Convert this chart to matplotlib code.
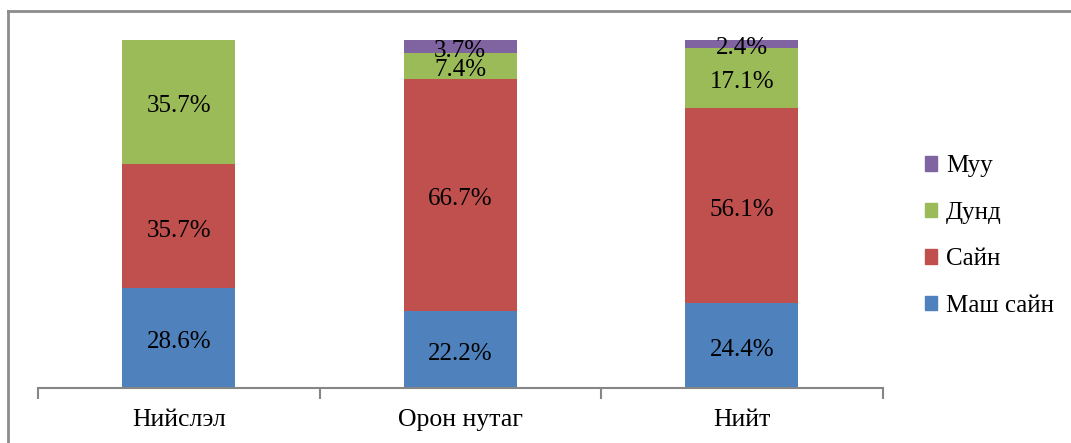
import matplotlib.pyplot as plt
from matplotlib.lines import Line2D
from matplotlib.patches import Patch

categories = ['Нийслэл', 'Орон нутаг', 'Нийт']
series = ['Маш сайн', 'Сайн', 'Дунд', 'Муу']
mash_sain = [28.6, 22.2, 24.4]
sain = [35.7, 66.7, 56.1]
dund = [35.7, 7.4, 17.1]
muu = [0.0, 3.7, 2.4]
colors = ['#4F81BD', '#C0504D', '#9BBB59', '#8064A2']

plt.rcParams['font.family'] = ['Liberation Serif', 'DejaVu Serif']

fig = plt.figure(figsize=(10.71, 4.43), dpi=100)
ax = fig.add_axes([38 / 1071, 55 / 443, 844.5 / 1071, 348 / 443])

x = list(range(len(categories)))
bottom = [0.0] * len(categories)
for name, vals, col in zip(series, [mash_sain, sain, dund, muu], colors):
    ax.bar(x, vals, width=0.4, bottom=bottom, color=col, label=name)
    for xi, b, v in zip(x, bottom, vals):
        if v > 0:
            ax.annotate(f'{v:.1f}%', (xi, b + v / 2), xytext=(0, -3),
                        textcoords='offset points', ha='center', va='center',
                        fontsize=18, color='black')
    bottom = [b + v for b, v in zip(bottom, vals)]

ax.set_xlim(-0.5, len(categories) - 0.5)
ax.set_ylim(0, 100)
for side in ['top', 'right', 'left']:
    ax.spines[side].set_visible(False)
ax.spines['bottom'].set_color('#868686')
ax.spines['bottom'].set_linewidth(1.5)
ax.set_yticks([])
ax.set_xticks(x)
ax.set_xticklabels(categories, fontsize=18.5)
ax.tick_params(axis='x', which='major', length=0, pad=15)
ax.set_xticks([-0.5, 0.5, 1.5, 2.5], minor=True)
ax.tick_params(axis='x', which='minor', length=8, width=1.5, color='#868686')

handles = [Patch(color=c, label=s) for s, c in zip(series, colors)][::-1]
fig.legend(handles=handles, loc='center left', bbox_to_anchor=(902 / 1071, 1 - 236 / 443),
           frameon=False, fontsize=18, handlelength=0.5, handleheight=0.5,
           handletextpad=0.35, labelspacing=0.98)

# chart frame on the top and left edges
fig.add_artist(Line2D([8 / 1071, 1.0], [1 - 10.5 / 443] * 2, color='#8C8C8C', lw=2))
fig.add_artist(Line2D([8 / 1071] * 2, [0.0, 1 - 10.5 / 443], color='#8C8C8C', lw=2))

fig.savefig('out.png', dpi=100)
